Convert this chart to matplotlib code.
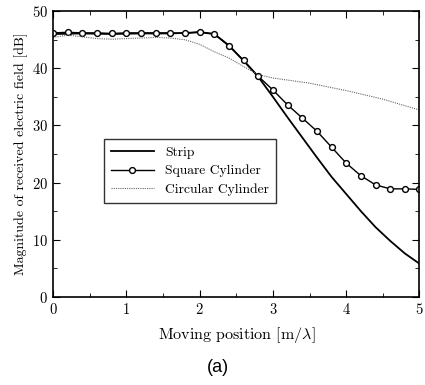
import matplotlib
matplotlib.use("Agg")
import matplotlib.pyplot as plt
from matplotlib.ticker import MultipleLocator

plt.rcParams["font.family"] = ["cmr10", "DejaVu Serif"]
plt.rcParams["mathtext.fontset"] = "cm"
plt.rcParams["axes.formatter.use_mathtext"] = True

# moving position [m/lambda]
x_square = [0.0, 0.2, 0.4, 0.6, 0.8, 1.0, 1.2, 1.4, 1.6, 1.8, 2.0, 2.2, 2.4, 2.6,
            2.8, 3.0, 3.2, 3.4, 3.6, 3.8, 4.0, 4.2, 4.4, 4.6, 4.8, 5.0]
y_square = [46.2, 46.3, 46.2, 46.2, 46.1, 46.2, 46.2, 46.2, 46.2, 46.1, 46.4, 46.0, 43.9, 41.4,
            38.6, 36.2, 33.6, 31.3, 29.0, 26.2, 23.4, 21.2, 19.6, 18.9, 18.9, 18.8]

x_strip = [0.0, 0.4, 0.8, 1.2, 1.6, 2.0, 2.2, 2.4, 2.6, 2.8, 3.0, 3.2, 3.4, 3.6,
           3.8, 4.0, 4.2, 4.4, 4.6, 4.8, 5.0]
y_strip = [46.0, 46.1, 46.0, 46.1, 46.1, 46.3, 46.0, 44.0, 41.3, 38.5, 35.0, 31.4, 27.9, 24.4,
           21.0, 18.0, 15.0, 12.2, 9.8, 7.6, 5.8]

x_circ = [0.0, 0.2, 0.4, 0.6, 0.8, 1.0, 1.2, 1.4, 1.6, 1.8, 2.0, 2.2, 2.4, 2.6,
          2.8, 3.0, 3.5, 4.0, 4.5, 5.0]
y_circ = [45.4, 45.8, 45.5, 45.2, 45.1, 45.2, 45.3, 45.4, 45.3, 45.0, 44.2, 42.9, 41.8, 40.3,
          38.9, 38.3, 37.4, 36.1, 34.6, 32.7]

fig = plt.figure(figsize=(4.25, 3.85), dpi=100)
ax = fig.add_axes([0.125, 0.229, 0.862, 0.742])

ax.plot(x_strip, y_strip, color="black", linewidth=1.3, label="Strip")
ax.plot(x_square, y_square, color="black", linewidth=1.0, marker="o", markersize=4.2,
        markerfacecolor="white", markeredgewidth=1.0, label="Square Cylinder")
ax.plot(x_circ, y_circ, color="#666666", linewidth=0.8, linestyle=(0, (1, 1)),
        label="Circular Cylinder")

ax.set_xlim(0, 5)
ax.set_ylim(0, 50)
ax.xaxis.set_major_locator(MultipleLocator(1))
ax.xaxis.set_minor_locator(MultipleLocator(0.5))
ax.yaxis.set_major_locator(MultipleLocator(10))
ax.yaxis.set_minor_locator(MultipleLocator(5))
ax.tick_params(which="both", direction="in", top=True, right=True, labelsize=10.5)
ax.tick_params(which="major", length=5)
ax.tick_params(which="minor", length=3)
for spine in ax.spines.values():
    spine.set_linewidth(1.2)

ax.set_xlabel(r"Moving position [m/$\lambda$]", fontsize=11.5, labelpad=6)
ax.set_ylabel("Magnitude of received electric field [dB]", fontsize=10, labelpad=3)

leg = ax.legend(loc="upper left", bbox_to_anchor=(0.12, 0.575), fontsize=9.8,
                handlelength=3.2, frameon=True, fancybox=False, edgecolor="black",
                borderpad=0.5, labelspacing=0.45)
leg.get_frame().set_linewidth(1.0)

fig.text(0.512, 0.035, "(a)", fontsize=13, family="Liberation Sans", ha="center")

fig.savefig("out.png", dpi=100)
